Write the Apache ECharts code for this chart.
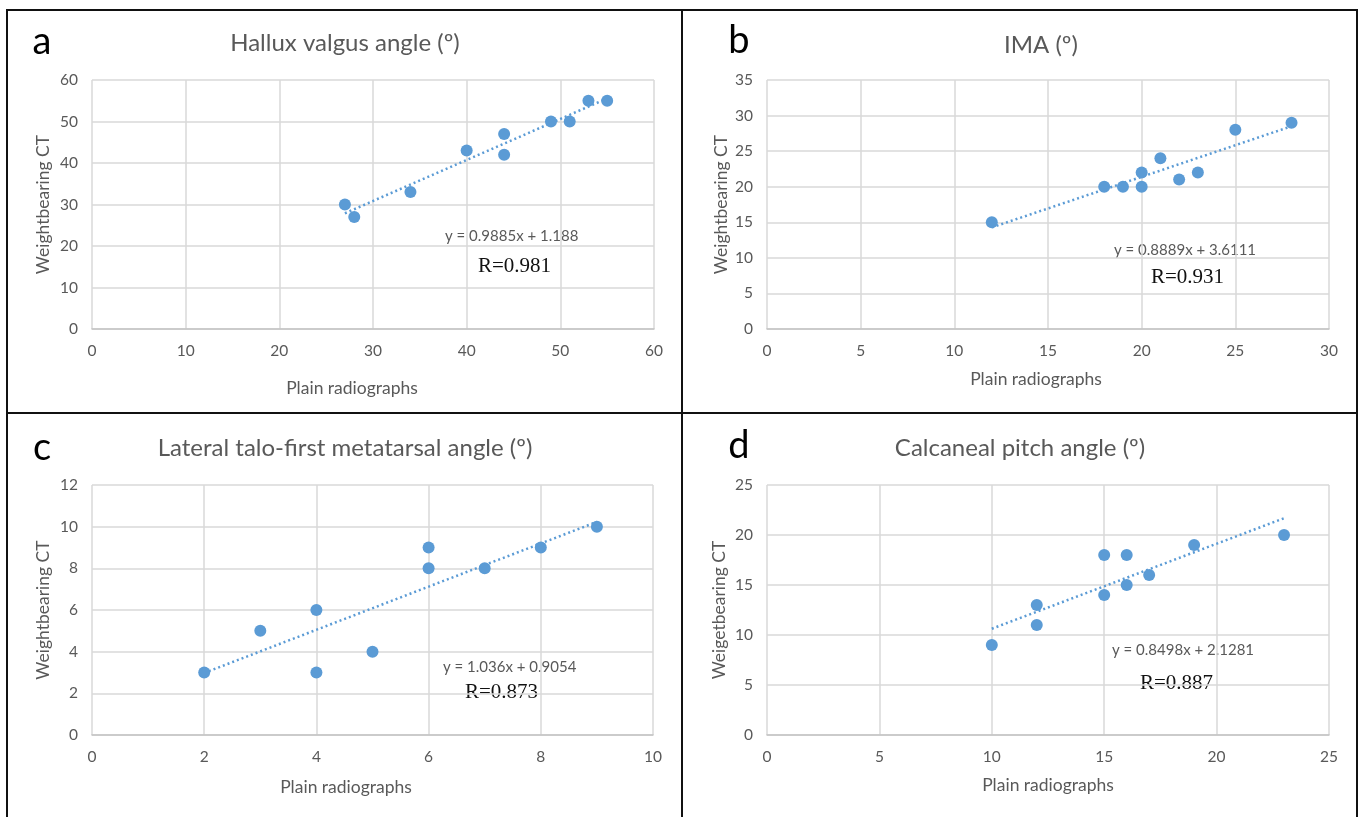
<!DOCTYPE html>
<html>
<head>
<meta charset="utf-8">
<script src="https://cdn.jsdelivr.net/npm/echarts@6/dist/echarts.min.js"></script>
<style>html,body{margin:0;padding:0;background:#fff}#c{width:1358px;height:817px}</style>
</head>
<body>
<div id="c"></div>
<script>
// Panel a: Hallux valgus angle
const aX = [27, 28, 34, 40, 44, 44, 49, 51, 53, 55];
const aY = [30, 27, 33, 43, 47, 42, 50, 50, 55, 55];
// Panel b: IMA
const bX = [12, 18, 19, 20, 20, 21, 22, 23, 25, 28];
const bY = [15, 20, 20, 22, 20, 24, 21, 22, 28, 29];
// Panel c: Lateral talo-first metatarsal angle
const cX = [2, 3, 4, 4, 5, 6, 6, 7, 8, 9];
const cY = [3, 5, 6, 3, 4, 9, 8, 8, 9, 10];
// Panel d: Calcaneal pitch angle
const dX = [10, 12, 12, 15, 15, 16, 16, 17, 19, 23];
const dY = [9, 13, 11, 18, 14, 18, 15, 16, 19, 20];

const letters = ['a', 'b', 'c', 'd'];
const titles = ['Hallux valgus angle (º)', 'IMA (º)', 'Lateral talo-first metatarsal angle (º)', 'Calcaneal pitch angle (º)'];
const yNames = ['Weightbearing CT', 'Weightbearing CT', 'Weightbearing CT', 'Weigetbearing CT'];
const xName = 'Plain radiographs';
const slopes = [0.9885, 0.8889, 1.036, 0.8498];
const intercepts = [1.188, 3.6111, 0.9054, 2.1281];
const equations = ['y = 0.9885x + 1.188', 'y = 0.8889x + 3.6111', 'y = 1.036x + 0.9054', 'y = 0.8498x + 2.1281'];
const rTexts = ['R=0.981', 'R=0.931', 'R=0.873', 'R=0.887'];
const xMax = [60, 30, 10, 25];
const xInt = [10, 5, 2, 5];
const yMax = [60, 35, 12, 25];
const yInt = [10, 5, 2, 5];

const xs = [aX, bX, cX, dX];
const ys = [aY, bY, cY, dY];

const grids = [
  {left: 92, top: 80, width: 562, height: 249},
  {left: 767, top: 80, width: 562, height: 249},
  {left: 92, top: 485, width: 561, height: 250},
  {left: 767, top: 485, width: 562, height: 250}
];
const xNameGap = [50, 41, 43, 41];
const xNamePadRight = [42, 24, 53, 0];
const yNameGap = [40, 37, 40, 39];
const letterPos = [[42, 42], [739, 41], [42, 448], [739, 446]];
const titlePos = [[345, 43], [1041, 45], [345, 448], [1020, 448]];
const eqPos = [[445, 236], [1114, 250], [443, 667], [1112, 650]];
const rPos = [[478, 266], [1151, 277], [465, 692], [1140, 683]];

const FONT = 'Lato';
const TXT = '#595959';
const BLUE = '#5B9BD5';

const xAxes = [], yAxes = [], series = [], graphic = [];
for (let i = 0; i < 4; i++) {
  xAxes.push({
    type: 'value', gridIndex: i, min: 0, max: xMax[i], interval: xInt[i],
    name: xName, nameLocation: 'middle', nameGap: xNameGap[i],
    nameTextStyle: {fontFamily: FONT, fontSize: 17.5, color: TXT, padding: [0, xNamePadRight[i], 0, 0]},
    axisLine: {show: true, onZero: false, lineStyle: {color: '#c4c4c4', width: 1.5}},
    axisTick: {show: false},
    axisLabel: {fontFamily: FONT, fontSize: 15.5, color: TXT, margin: 14},
    splitLine: {show: true, lineStyle: {color: '#d9d9d9', width: 1.5}}
  });
  yAxes.push({
    type: 'value', gridIndex: i, min: 0, max: yMax[i], interval: yInt[i],
    name: yNames[i], nameLocation: 'middle', nameGap: yNameGap[i],
    nameTextStyle: {fontFamily: FONT, fontSize: 17.5, color: TXT},
    axisLine: {show: false},
    axisTick: {show: false},
    axisLabel: {fontFamily: FONT, fontSize: 15.5, color: TXT, margin: 14},
    splitLine: {show: true, lineStyle: {color: '#d9d9d9', width: 1.5}}
  });
  const x0 = Math.min(...xs[i]), x1 = Math.max(...xs[i]);
  series.push({
    type: 'line', xAxisIndex: i, yAxisIndex: i, symbol: 'none', silent: true,
    data: [[x0, slopes[i] * x0 + intercepts[i]], [x1, slopes[i] * x1 + intercepts[i]]],
    lineStyle: {color: BLUE, width: 2.5, type: [2, 3]}, z: 2
  });
  series.push({
    type: 'scatter', xAxisIndex: i, yAxisIndex: i, symbolSize: 12,
    data: xs[i].map((v, k) => [v, ys[i][k]]),
    itemStyle: {color: BLUE, opacity: 1}, z: 3
  });
  graphic.push({type: 'text', x: letterPos[i][0], y: letterPos[i][1],
    style: {text: letters[i], font: '38px ' + FONT, fill: '#000', align: 'center', verticalAlign: 'middle'}});
  graphic.push({type: 'text', x: titlePos[i][0], y: titlePos[i][1],
    style: {text: titles[i], font: '24px ' + FONT, fill: TXT, align: 'center', verticalAlign: 'middle'}});
  graphic.push({type: 'text', x: eqPos[i][0], y: eqPos[i][1],
    style: {text: equations[i], font: '15px ' + FONT, fill: TXT, align: 'left', verticalAlign: 'middle'}});
  graphic.push({type: 'text', x: rPos[i][0], y: rPos[i][1],
    style: {text: rTexts[i], font: '21px "Liberation Serif"', fill: '#111', align: 'left', verticalAlign: 'middle'}});
}
// panel borders
const lineStyle = {stroke: '#111', lineWidth: 2};
graphic.push({type: 'polyline', shape: {points: [[7, 817], [7, 10], [1357, 10], [1357, 817]]}, style: lineStyle});
graphic.push({type: 'line', shape: {x1: 682, y1: 10, x2: 682, y2: 817}, style: lineStyle});
graphic.push({type: 'line', shape: {x1: 7, y1: 413, x2: 1357, y2: 413}, style: lineStyle});

const chart = echarts.init(document.getElementById('c'));
chart.setOption({
  animation: false,
  backgroundColor: '#fff',
  grid: grids,
  xAxis: xAxes,
  yAxis: yAxes,
  series: series,
  graphic: graphic
});
</script>
</body>
</html>
